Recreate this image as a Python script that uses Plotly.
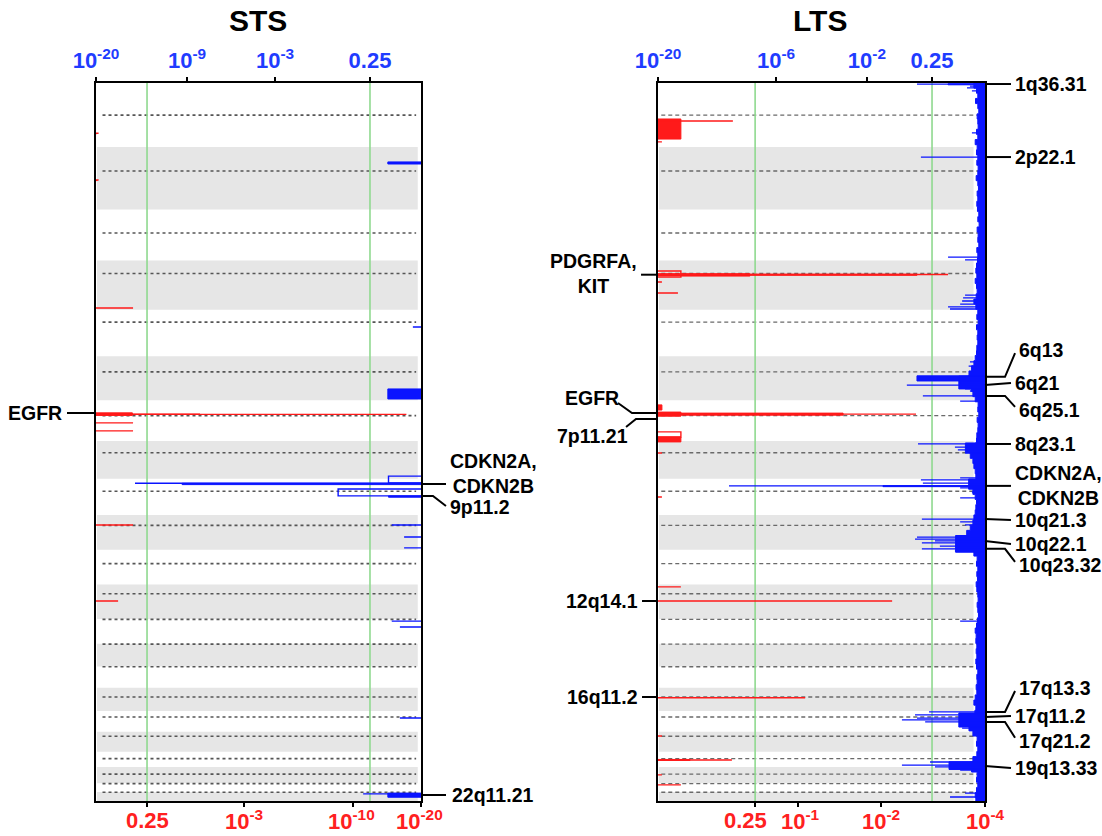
import plotly.graph_objects as go

# ---------------- genome layout (Mb; acrocentric p-arms omitted) ----------------
chrom_len = [249.25, 243.2, 198.0, 191.2, 180.9, 171.1, 159.1, 146.4, 141.2, 135.5, 135.0,
             133.9, 96.2, 88.3, 82.5, 90.4, 81.2, 78.1, 59.1, 63.0, 33.8, 35.3]
centromere = [125.0, 93.3, 91.0, 50.4, 48.4, 61.0, 59.9, 45.6, 49.0, 40.2, 53.7,
              35.8, 1.5, 1.5, 1.5, 36.6, 24.0, 17.2, 26.5, 27.5, 1.5, 1.5]
chrom_start = []
_acc = 0.0
for _L in chrom_len:
    chrom_start.append(_acc)
    _acc += _L
GENOME = _acc

# ---------------- axis tick values (score units) ----------------
sts_amp_tick_pos = [15.7, 45.5, 79.1, 100]
sts_amp_tick_text = ['0.25', '10<sup>-3</sup>', '10<sup>-10</sup>', '10<sup>-20</sup>']
sts_amp_label_shift = [0, 0, -2, -2]
sts_del_tick_pos = [100, 72.0, 44.9, 15.7]
sts_del_tick_text = ['10<sup>-20</sup>', '10<sup>-9</sup>', '10<sup>-3</sup>', '0.25']
lts_amp_tick_pos = [29.7, 42.8, 68.2, 100]
lts_amp_tick_text = ['0.25', '10<sup>-1</sup>', '10<sup>-2</sup>', '10<sup>-4</sup>']
lts_amp_label_shift = [-10, 3, 0, 0]
lts_del_tick_pos = [100, 63.9, 36.1, 16.2]
lts_del_tick_text = ['10<sup>-20</sup>', '10<sup>-6</sup>', '10<sup>-2</sup>', '0.25']
sts_amp_threshold = 15.7
sts_del_threshold = 15.7
lts_amp_threshold = 29.7
lts_del_threshold = 16.2

# ---------------- STS profiles: (start Mb, end Mb, score) ----------------
sts_amp_lines = [(195, 197, 0.8), (377, 379, 0.8), (875, 875, 11.4), (1288, 1290, 32.0),
                 (1289, 1289, 95.5), (1322, 1322, 11.4), (1353, 1353, 11.4),
                 (1719, 1719, 11.4), (2015, 2015, 6.8)]
sts_amp_solid = [(1283, 1293, 11.2)]
sts_del_lines = [(949, 949, 2.5), (1529, 1556, 10.0), (1557, 1557, 88.0), (1579, 1606, 25.5),
                 (1719, 1719, 9.0), (1766, 1766, 5.2), (1808, 1808, 5.2), (2093, 2093, 9.0),
                 (2116, 2116, 6.5), (2470, 2470, 6.5), (2765, 2765, 17.8)]
sts_del_solid = [(307, 315, 10.2), (1190, 1229, 10.2), (1557, 1562, 73.5), (1606, 1611, 10.0),
                 (2762, 2778, 10.2)]

# ---------------- LTS profiles ----------------
lts_amp_lines = [(148, 148, 22.9), (229, 229, 1.2), (731, 755, 7.0), (745, 745, 88.7),
                 (774, 774, 1.2), (817, 817, 6.1), (1288, 1288, 78.9), (1357, 1377, 7.0),
                 (1439, 1439, 1.2), (1610, 1610, 1.2), (1960, 1960, 7.0), (2015, 2015, 71.6),
                 (2391, 2391, 45.0), (2540, 2540, 1.2), (2633, 2633, 22.6), (2691, 2691, 1.2),
                 (2730, 2730, 7.0)]
lts_amp_solid = [(140, 218, 7.0), (742, 751, 28.1), (744, 748, 79.2), (1252, 1272, 1.2),
                 (1280, 1296, 7.0), (1284, 1292, 56.6), (1377, 1396, 7.0), (2631, 2635, 9.8)]
lts_del_lines = [(4, 4, 20.8), (12, 12, 4.6), (19, 19, 5.5), (31, 31, 4.0), (194, 194, 4.0),
                 (288, 288, 19.6), (677, 677, 11.3), (688, 688, 6.1), (825, 825, 6.1),
                 (836, 836, 6.7), (848, 848, 7.0), (860, 860, 7.6), (871, 871, 11.3),
                 (879, 879, 10.7), (1085, 1085, 4.6), (1101, 1101, 5.0), (1167, 1167, 7.6),
                 (1175, 1175, 23.9), (1190, 1190, 6.1), (1198, 1198, 4.6), (1217, 1217, 19.0),
                 (1237, 1237, 7.6), (1404, 1404, 20.5), (1416, 1416, 9.2), (1427, 1427, 8.3),
                 (1536, 1536, 7.6), (1544, 1544, 19.6), (1556, 1556, 19.0), (1567, 1567, 78.3),
                 (1575, 1575, 7.6), (1591, 1591, 4.0), (1614, 1614, 7.6), (1696, 1696, 19.3),
                 (1707, 1707, 7.6), (1719, 1719, 6.1), (1766, 1766, 20.8), (1774, 1774, 21.4),
                 (1781, 1781, 15.3), (1789, 1789, 19.3), (1801, 1801, 13.8), (1812, 1812, 19.3),
                 (1820, 1820, 9.2), (2093, 2093, 7.6), (2446, 2446, 17.1), (2458, 2458, 21.4),
                 (2470, 2470, 20.8), (2477, 2477, 25.4), (2485, 2485, 18.3), (2497, 2497, 7.6),
                 (2509, 2509, 7.0), (2641, 2641, 16.8), (2653, 2653, 25.4), (2660, 2660, 15.3),
                 (2672, 2672, 7.6), (2762, 2762, 6.1), (2777, 2777, 10.7)]
lts_del_solid = [(3, 7, 11.3), (1139, 1159, 20.8), (1140, 1190, 8.0), (1400, 1440, 6.0),
                 (1540, 1580, 5.0), (1566, 1570, 31.2), (1760, 1825, 9.0), (2450, 2505, 8.0),
                 (2640, 2670, 11.0)]
# background deletion strip, 20 Mb bins
lts_strip_bin = 20.0
lts_strip = [3.4, 2.6, 2.2, 2.9, 2.2, 1.9, 2.4, 2.2, 2.1, 2.6, 2.2, 3.0, 2.4,
             2.6, 2.2, 2.5, 2.1, 2.2, 2.7, 2.2, 2.0, 2.4, 2.2, 2.5, 2.3,
             1.9, 2.2, 1.8, 2.4, 2.1, 2.2, 1.9, 2.5, 2.2, 2.3,
             2.6, 2.8, 2.5, 3.0, 2.6, 2.4, 2.7, 3.4, 2.8,
             2.2, 2.5, 2.1, 2.6, 2.2, 2.4, 2.2, 2.5, 2.6,
             3.0, 3.4, 4.1, 4.9, 5.2, 4.5, 4.1, 3.7, 3.0,
             2.1, 2.2, 1.9, 2.4, 2.1, 2.2, 2.5,
             2.6, 3.0, 4.1, 4.5, 3.7, 3.4, 3.0, 2.8, 2.6,
             3.4, 3.7, 3.0, 2.6, 2.8, 3.0, 3.4,
             3.7, 4.5, 5.6, 6.0, 5.2, 4.5, 3.4,
             2.4, 2.6, 2.2, 2.5, 2.3, 2.7, 2.5,
             2.2, 2.1, 2.4, 2.2, 2.0, 2.3,
             2.6, 3.0, 2.7, 2.8, 2.5,
             2.7, 2.5, 2.8, 2.6,
             2.2, 2.5, 2.4, 2.7, 2.5,
             3.0, 3.4, 2.8, 3.1,
             4.5, 5.2, 4.9, 3.7,
             2.4, 2.6, 2.2, 2.5,
             3.7, 4.5, 4.1,
             2.4, 2.6, 2.2,
             2.6, 3.0, 2.8]

RED = '#ff1a1a'
BLUE = '#0a14ff'
TICK_BLUE = '#1f3cff'
TICK_RED = '#ff2020'
FONT = 'Liberation Sans'
W, H = 1102, 836
sts_dom = [96 / W, 421 / W]
lts_dom = [658 / W, 985 / W]
y_dom = [35 / H, 753 / H]


def outline_xy(segs):
    xs, ys = [], []
    for s, e, v in segs:
        xs += [0, v, v, 0, None]
        ys += [s, s, e, e, None]
    return xs, ys


def solid_xy(segs):
    xs, ys = [], []
    for s, e, v in segs:
        xs += [0, v, v, 0, 0, None]
        ys += [s, s, e, e, s, None]
    return xs, ys


def strip_xy(vals, binw):
    xs, ys = [0], [0]
    for i, v in enumerate(vals):
        s = i * binw
        e = min((i + 1) * binw, GENOME)
        xs += [v, v]
        ys += [s, e]
    xs.append(0)
    ys.append(GENOME)
    return xs, ys


fig = go.Figure()


def add_lines(segs, color, xa, ya, width=1.4):
    x, y = outline_xy(segs)
    fig.add_trace(go.Scatter(x=x, y=y, mode='lines', line=dict(color=color, width=width),
                             xaxis=xa, yaxis=ya, hoverinfo='skip', connectgaps=False))


def add_solid(segs, color, xa, ya):
    x, y = solid_xy(segs)
    fig.add_trace(go.Scatter(x=x, y=y, mode='lines', fill='toself', fillcolor=color,
                             line=dict(color=color, width=1), xaxis=xa, yaxis=ya,
                             hoverinfo='skip'))


# STS
add_solid(sts_amp_solid, RED, 'x', 'y')
add_lines(sts_amp_lines, RED, 'x', 'y')
add_solid(sts_del_solid, BLUE, 'x2', 'y')
add_lines(sts_del_lines, BLUE, 'x2', 'y')
# LTS
sx, sy = strip_xy(lts_strip, lts_strip_bin)
fig.add_trace(go.Scatter(x=sx, y=sy, mode='lines', fill='toself', fillcolor=BLUE,
                         line=dict(color=BLUE, width=1), xaxis='x4', yaxis='y2', hoverinfo='skip'))
add_solid(lts_del_solid, BLUE, 'x4', 'y2')
add_lines(lts_del_lines, BLUE, 'x4', 'y2', width=1.3)
add_solid(lts_amp_solid, RED, 'x3', 'y2')
add_lines(lts_amp_lines, RED, 'x3', 'y2')

shapes = []
# chromosome bands and centromere lines
for i, (st, L, cen) in enumerate(zip(chrom_start, chrom_len, centromere)):
    if i % 2 == 1:
        shapes.append(dict(type='rect', xref='x domain', yref='y', x0=0.003, x1=0.99,
                           y0=st, y1=st + L, fillcolor='#e6e6e6', line=dict(width=0), layer='below'))
        shapes.append(dict(type='rect', xref='x3 domain', yref='y2', x0=0.003, x1=0.965,
                           y0=st, y1=st + L, fillcolor='#e6e6e6', line=dict(width=0), layer='below'))
    shapes.append(dict(type='line', xref='x domain', yref='y', x0=0.02, x1=0.985,
                       y0=st + cen, y1=st + cen, line=dict(color='#555555', width=1.6, dash='dot'),
                       layer='below'))
    shapes.append(dict(type='line', xref='x3 domain', yref='y2', x0=0.01, x1=0.99,
                       y0=st + cen, y1=st + cen, line=dict(color='#6a6a6a', width=1.4, dash='4px,3px'),
                       layer='below'))
# significance thresholds
GREEN = '#8fd98f'
shapes.append(dict(type='line', xref='x', yref='y domain', x0=sts_amp_threshold, x1=sts_amp_threshold,
                   y0=0, y1=1, line=dict(color=GREEN, width=1.6), layer='below'))
shapes.append(dict(type='line', xref='x2', yref='y domain', x0=sts_del_threshold, x1=sts_del_threshold,
                   y0=0, y1=1, line=dict(color=GREEN, width=1.6), layer='below'))
shapes.append(dict(type='line', xref='x3', yref='y2 domain', x0=lts_amp_threshold, x1=lts_amp_threshold,
                   y0=0, y1=1, line=dict(color=GREEN, width=1.6), layer='below'))
shapes.append(dict(type='line', xref='x4', yref='y2 domain', x0=lts_del_threshold, x1=lts_del_threshold,
                   y0=0, y1=1, line=dict(color=GREEN, width=1.6), layer='below'))

annotations = []
LBL = 19.5

# bottom (amplification) tick labels placed as annotations on the axis scale
for xa, poss, texts, shifts in [('x', sts_amp_tick_pos, sts_amp_tick_text, sts_amp_label_shift),
                                 ('x3', lts_amp_tick_pos, lts_amp_tick_text, lts_amp_label_shift)]:
    for p, t, sh in zip(poss, texts, shifts):
        annotations.append(dict(text='<b>' + t + '</b>', x=p, xref=xa, y=(H - 820) / H, yref='paper',
                                xanchor='center', yanchor='middle', showarrow=False, xshift=sh,
                                font=dict(family=FONT, size=22, color=TICK_RED)))


def label(text, x_px, y_mb, yref, anchor):
    annotations.append(dict(text='<b>' + text + '</b>', x=x_px / W, xref='paper', y=y_mb, yref=yref,
                            xanchor=anchor, yanchor='middle', showarrow=False,
                            font=dict(family=FONT, size=LBL, color='black')))


def leader(points, yref):
    path = 'M ' + ' L '.join('%.4f,%.2f' % (px / W, ymb) for px, ymb in points)
    shapes.append(dict(type='path', xref='paper', yref=yref, path=path,
                       line=dict(color='black', width=2)))


# STS labels
label('EGFR', 64, 1283.5, 'y', 'right')
leader([(67, 1283.5), (96, 1283.5)], 'y')
label('CDKN2A,<br>CDKN2B', 448, 1518.8, 'y', 'left')
leader([(421, 1559.7), (446, 1559.7)], 'y')
label('9p11.2', 448, 1649.2, 'y', 'left')
leader([(421, 1606.4), (433, 1606.4), (446, 1645.3)], 'y')
label('22q11.21', 450, 2769.3, 'y', 'left')
leader([(421, 2769.3), (446, 2769.3)], 'y')

# LTS right labels: (text, peak Mb, label Mb)
lts_right_labels = [('1q36.31', 4, 4), ('2p22.1', 288, 288), ('6q13', 1143, 1039),
                    ('6q21', 1175, 1167), ('6q25.1', 1217, 1272), ('8q23.1', 1404, 1404),
                    ('CDKN2A,<br>CDKN2B', 1567, 1567), ('10q21.3', 1696, 1700),
                    ('10q22.1', 1781, 1793), ('10q23.32', 1812, 1875), ('17q13.3', 2446, 2353),
                    ('17q11.2', 2466, 2462), ('17q21.2', 2485, 2559), ('19q13.33', 2657, 2664)]
for text, peak, lab in lts_right_labels:
    if abs(peak - lab) < 15:
        leader([(985, peak), (1011, lab)], 'y2')
        label(text, 1013, lab, 'y2', 'left')
    else:
        leader([(985, peak), (1005, peak), (1015, lab + (12 if lab < peak else -12))], 'y2')
        label(text, 1017, lab, 'y2', 'left')

# LTS left labels
label('PDGRFA,<br>KIT', 593, 741.0, 'y2', 'center')
leader([(641, 745.6), (658, 745.6)], 'y2')
label('EGFR', 592, 1225.2, 'y2', 'center')
label('7p11.21', 592, 1373.0, 'y2', 'center')
leader([(618, 1244.6), (632, 1283.5), (658, 1283.5)], 'y2')
leader([(626, 1338.0), (636, 1306.9), (658, 1306.9)], 'y2')
label('12q14.1', 640, 2014.8, 'y2', 'right')
leader([(642, 2014.8), (658, 2014.8)], 'y2')
label('16q11.2', 640, 2388.2, 'y2', 'right')
leader([(642, 2388.2), (658, 2388.2)], 'y2')

# titles
for t, xp in [('STS', 258), ('LTS', 820)]:
    annotations.append(dict(text='<b>' + t + '</b>', x=xp / W, xref='paper', y=(H - 20) / H,
                            yref='paper', xanchor='center', yanchor='middle', showarrow=False,
                            font=dict(family=FONT, size=30, color='black')))


def xax(dom, rng, side, tv, tt, color, lw, anchor, overlay=None, labels=True):
    d = dict(domain=dom, range=rng, side=side, anchor=anchor, tickmode='array', tickvals=tv,
             ticktext=['<b>' + s + '</b>' for s in tt], tickfont=dict(family=FONT, size=22, color=color),
             tickangle=0, automargin=False, showticklabels=labels,
             ticks='outside', ticklen=4, tickwidth=1.5, tickcolor='black', showline=True,
             linecolor='black', linewidth=lw, showgrid=False, zeroline=False, fixedrange=True)
    if overlay:
        d['overlaying'] = overlay
    return d


def yax(anchor, lw):
    return dict(domain=y_dom, range=[GENOME, 0], anchor=anchor, showline=True, mirror=True,
                linecolor='black', linewidth=lw, showticklabels=False, ticks='', showgrid=False,
                zeroline=False, fixedrange=True, automargin=False)


fig.update_layout(
    width=W, height=H, margin=dict(l=0, r=0, t=0, b=0, autoexpand=False),
    paper_bgcolor='white', plot_bgcolor='white', showlegend=False,
    font=dict(family=FONT),
    xaxis=xax(sts_dom, [0, 100], 'bottom', sts_amp_tick_pos, sts_amp_tick_text, TICK_RED, 2, 'y',
              labels=False),
    xaxis2=xax(sts_dom, [100, 0], 'top', sts_del_tick_pos, sts_del_tick_text, TICK_BLUE, 2, 'y', 'x'),
    xaxis3=xax(lts_dom, [0, 100], 'bottom', lts_amp_tick_pos, lts_amp_tick_text, TICK_RED, 1.5, 'y2',
               labels=False),
    xaxis4=xax(lts_dom, [100, 0], 'top', lts_del_tick_pos, lts_del_tick_text, TICK_BLUE, 1.5, 'y2', 'x3'),
    yaxis=yax('x', 2),
    yaxis2=yax('x3', 1.5),
    shapes=shapes,
    annotations=annotations,
)

fig.write_html('out.html')
